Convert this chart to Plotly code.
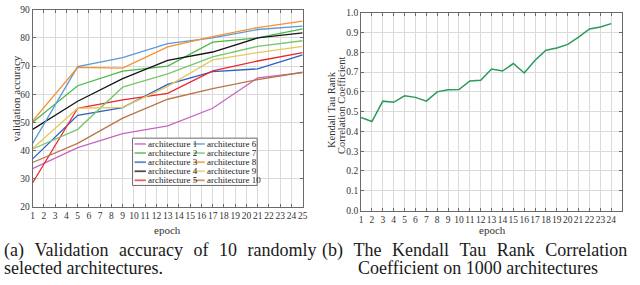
import plotly.graph_objects as go

epochs_a = [1, 5, 9, 13, 17, 21, 25]
arch_names = [f"architecture {i}" for i in range(1, 11)]
arch_values = {
    "architecture 1": [33.5, 41.0, 46.0, 48.7, 55.0, 65.8, 67.7],
    "architecture 2": [50.0, 63.0, 68.2, 70.0, 78.5, 80.0, 83.2],
    "architecture 3": [37.0, 52.5, 55.2, 63.5, 68.0, 69.0, 74.0],
    "architecture 4": [47.5, 57.5, 65.5, 72.0, 75.0, 80.0, 81.8],
    "architecture 5": [28.5, 55.0, 58.0, 60.3, 68.3, 71.8, 74.8],
    "architecture 6": [42.5, 69.8, 73.0, 78.0, 80.0, 83.0, 84.2],
    "architecture 7": [40.5, 47.5, 62.5, 67.2, 73.3, 77.0, 79.0],
    "architecture 8": [50.5, 69.5, 69.3, 76.8, 80.5, 83.7, 86.0],
    "architecture 9": [40.7, 55.0, 55.3, 62.8, 72.2, 74.8, 77.0],
    "architecture 10": [35.7, 42.5, 51.5, 58.2, 62.0, 65.2, 67.8],
}
arch_colors = ["#c865c0", "#4cb848", "#2d5fc0", "#151515", "#e8282e",
               "#5b9ad8", "#78c86a", "#f7902e", "#e6c85a", "#b97548"]

epochs_b = list(range(1, 25))
kendall = [0.47, 0.45, 0.553, 0.547, 0.58, 0.572, 0.553, 0.60, 0.61, 0.612,
           0.655, 0.658, 0.715, 0.705, 0.743, 0.695, 0.76, 0.81, 0.822, 0.84,
           0.877, 0.918, 0.928, 0.945]

caption_a = ["(a) Validation accuracy of 10 randomly", "selected architectures."]
caption_b = ["(b) The Kendall Tau Rank Correlation", "Coefficient on 1000 architectures"]

W, H = 640, 285
FONT = "Liberation Serif"
TXT = "#1a1a1a"
AX_TXT = "#333333"


def px_x(v):
    return v / W


def px_y(v):
    return 1 - v / H


def justify(s):
    return s.replace(" ", "\u2002\u200a")


fig = go.Figure()
for i, name in enumerate(arch_names):
    fig.add_trace(go.Scatter(
        x=epochs_a, y=arch_values[name], mode="lines", name=name,
        line=dict(color=arch_colors[i], width=1.3),
        showlegend=False, xaxis="x", yaxis="y"))

fig.add_trace(go.Scatter(x=epochs_b, y=kendall, mode="lines",
                         line=dict(color="#2a9a5a", width=1.5),
                         showlegend=False, xaxis="x2", yaxis="y2"))

axis_common = dict(showgrid=True, gridcolor="#dadada", gridwidth=1,
                   showline=True, linecolor="#6a6a6a", linewidth=1,
                   mirror="allticks", ticks="inside", ticklen=3,
                   tickcolor="#6a6a6a", zeroline=False, tickangle=0,
                   tickfont=dict(family=FONT, size=9.5, color=AX_TXT))

# manual two-column legend
shapes = [dict(type="rect", xref="paper", yref="paper",
               x0=px_x(132), x1=px_x(258), y0=px_y(187), y1=px_y(138),
               line=dict(color="#6a6a6a", width=1), fillcolor="white", layer="above")]
annotations = []
row_y = [144, 153.4, 162.9, 172.3, 181.7]
for i, name in enumerate(arch_names):
    col, row = divmod(i, 5)
    lx0 = 134 if col == 0 else 193.5
    yy = px_y(row_y[row])
    shapes.append(dict(type="line", xref="paper", yref="paper",
                       x0=px_x(lx0), x1=px_x(lx0 + 11.5), y0=yy, y1=yy,
                       line=dict(color=arch_colors[i], width=1.8),
                       opacity=0.75, layer="above"))
    annotations.append(dict(text=name, x=px_x(lx0 + 12), y=yy, xref="paper", yref="paper",
                            xanchor="left", yanchor="middle", showarrow=False,
                            font=dict(family=FONT, size=9, color=TXT)))

# axis titles
title_font = dict(family=FONT, size=11, color=AX_TXT)
annotations += [
    dict(text="validation accuracy", x=px_x(14), y=px_y(97), xref="paper", yref="paper",
         textangle=-90, showarrow=False, xanchor="center", yanchor="middle",
         font=title_font),
    dict(text="epoch", x=px_x(167), y=px_y(233), xref="paper", yref="paper",
         showarrow=False, xanchor="center", yanchor="middle", font=title_font),
    dict(text="Kendall Tau Rank", x=px_x(332.5), y=px_y(108),
         xref="paper", yref="paper", textangle=-90, showarrow=False,
         xanchor="center", yanchor="middle", font=dict(family=FONT, size=10.5, color=AX_TXT)),
    dict(text="Correlation Coefficient", x=px_x(343.5), y=px_y(104),
         xref="paper", yref="paper", textangle=-90, showarrow=False,
         xanchor="center", yanchor="middle", font=dict(family=FONT, size=10.5, color=AX_TXT)),
    dict(text="epoch", x=px_x(496), y=px_y(233), xref="paper", yref="paper",
         showarrow=False, xanchor="center", yanchor="middle", font=title_font),
]

# captions
cap_font = dict(family=FONT, size=18, color=TXT)
annotations += [
    dict(text=justify(caption_a[0]), x=0, y=px_y(254), xref="paper", yref="paper",
         xanchor="left", yanchor="middle", showarrow=False, font=cap_font),
    dict(text=caption_a[1], x=0, y=px_y(273), xref="paper", yref="paper",
         xanchor="left", yanchor="middle", showarrow=False, font=cap_font),
    dict(text=justify(caption_b[0]), x=px_x(322), y=px_y(254), xref="paper", yref="paper",
         xanchor="left", yanchor="middle", showarrow=False, font=cap_font),
    dict(text=caption_b[1], x=px_x(358), y=px_y(273), xref="paper", yref="paper",
         xanchor="left", yanchor="middle", showarrow=False, font=cap_font),
]

fig.update_layout(
    width=W, height=H, margin=dict(l=0, r=0, t=0, b=0),
    paper_bgcolor="white", plot_bgcolor="white",
    font=dict(family=FONT, color=AX_TXT),
    showlegend=False,
    xaxis=dict(domain=[px_x(31), px_x(304)], range=[1, 25], dtick=1,
               anchor="y", **axis_common),
    yaxis=dict(domain=[px_y(209), px_y(5)], range=[20, 90], dtick=10,
               anchor="x", **axis_common),
    xaxis2=dict(domain=[px_x(363), px_x(627)], range=[1, 25], tickvals=epochs_b,
                anchor="y2", **axis_common),
    yaxis2=dict(domain=[px_y(213), px_y(8)], range=[0, 1], dtick=0.1, tickformat=".1f",
                anchor="x2", **axis_common),
    shapes=shapes,
    annotations=annotations,
)

fig.write_html("out.html", config={"displayModeBar": False},
               post_script="document.body.style.margin='0';")
